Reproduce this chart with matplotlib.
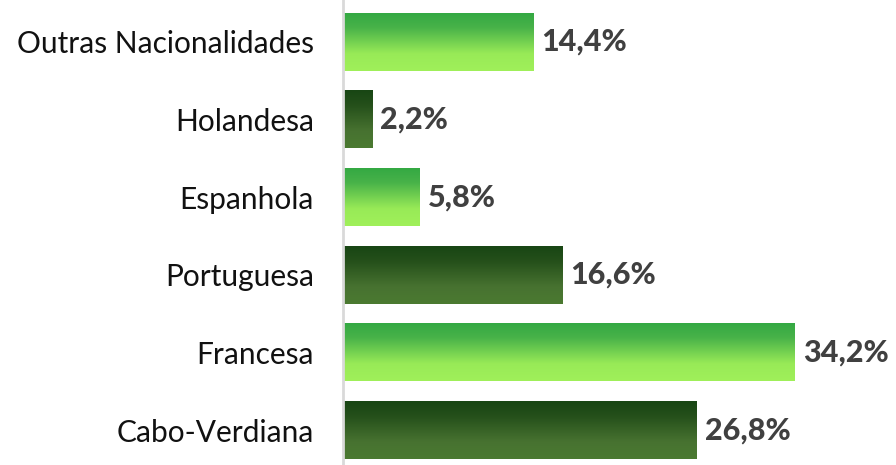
import numpy as np
import matplotlib.pyplot as plt
from matplotlib.colors import LinearSegmentedColormap

categories = ["Cabo-Verdiana", "Francesa", "Portuguesa", "Espanhola", "Holandesa", "Outras Nacionalidades"]
values = [26.8, 34.2, 16.6, 5.8, 2.2, 14.4]
labels = ["26,8%", "34,2%", "16,6%", "5,8%", "2,2%", "14,4%"]

plt.rcParams['font.family'] = ['Lato', 'DejaVu Sans']

light = LinearSegmentedColormap.from_list("light", [(0.0, "#a0f05a"), (0.3, "#98ea57"), (0.75, "#48b249"), (1.0, "#34a943")])
dark = LinearSegmentedColormap.from_list("dark", [(0.0, "#4b7a31"), (0.3, "#477230"), (0.75, "#244f1a"), (1.0, "#184614")])

fig = plt.figure(figsize=(8.96, 4.65), dpi=100)
ax = fig.add_axes([343/896, 0, 1 - 343/896, 1])
h = 0.74
grad = np.linspace(0, 1, 256).reshape(-1, 1)
for i, (v, lab) in enumerate(zip(values, labels)):
    cmap = dark if i % 2 == 0 else light
    ax.imshow(grad, extent=[0, v, i - h/2, i + h/2], origin='lower', aspect='auto', cmap=cmap, zorder=2)
    ax.annotate(lab, (v, i), xytext=(6, 0), textcoords='offset points', va='center', ha='left',
                fontsize=22, fontweight='black', color='#404040')

ax.set_xlim(0, 41.9)
ax.set_ylim(-0.45, 5.54)
ax.set_yticks(range(len(categories)))
ax.set_yticklabels(categories, fontsize=21.5, color='#111111')
ax.tick_params(axis='y', length=0, pad=21)
ax.set_xticks([])
for s in ['top', 'right', 'bottom']:
    ax.spines[s].set_visible(False)
ax.spines['left'].set_color('#d9d9d9')
ax.spines['left'].set_linewidth(2)
fig.savefig("out.png", dpi=100)
